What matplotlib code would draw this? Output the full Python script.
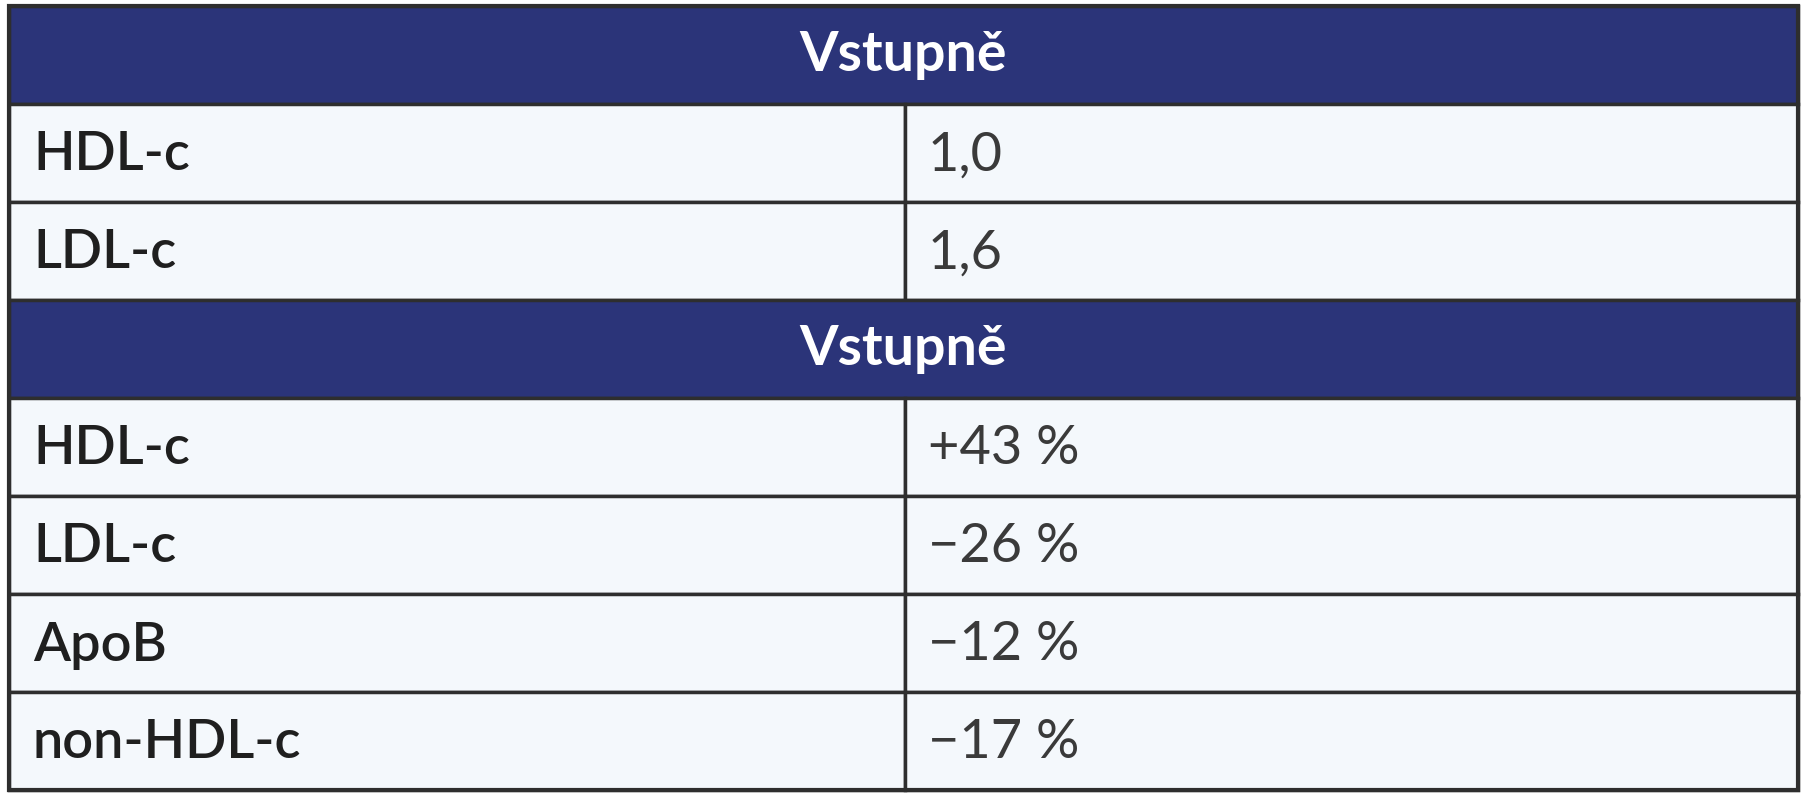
import matplotlib
matplotlib.use("Agg")
import matplotlib.pyplot as plt
from matplotlib.patches import Rectangle

headers = ["Vstupně", "Vstupně"]
section1_labels = ["HDL-c", "LDL-c"]
section1_values = ["1,0", "1,6"]
section2_labels = ["HDL-c", "LDL-c", "ApoB", "non-HDL-c"]
section2_values = ["+43 %", "−26 %", "−12 %", "−17 %"]

W, H = 1807, 800
fig = plt.figure(figsize=(W/100, H/100), dpi=100)
ax = fig.add_axes([0, 0, 1, 1])
ax.set_xlim(0, W); ax.set_ylim(H, 0); ax.axis("off")
fig.patch.set_facecolor("white")

L, R, T, B = 9, 1798, 6, 790
div = 905
rows = [("h", headers[0], None)] + list(zip(["r"]*2, section1_labels, section1_values)) \
     + [("h", headers[1], None)] + list(zip(["r"]*4, section2_labels, section2_values))
rh = (B - T) / len(rows)
navy = "#2b3479"; cell = "#f4f8fc"; edge = "#2e2e2e"
for i, (kind, lab, val) in enumerate(rows):
    y0 = T + i*rh
    if kind == "h":
        ax.add_patch(Rectangle((L, y0), R-L, rh, facecolor=navy, edgecolor=edge, lw=2.5))
        ax.text((L+R)/2, y0+rh/2, lab, color="white", fontsize=40, fontweight="bold",
                family="Lato", ha="center", va="center")
    else:
        ax.add_patch(Rectangle((L, y0), div-L, rh, facecolor=cell, edgecolor=edge, lw=2.5))
        ax.add_patch(Rectangle((div, y0), R-div, rh, facecolor=cell, edgecolor=edge, lw=2.5))
        ax.text(33, y0+rh/2+2, lab, color="#1f1f1f", fontsize=39, fontweight="semibold",
                family="Lato", ha="left", va="center")
        ax.text(928, y0+rh/2+2, val, color="#3a3a3a", fontsize=39, fontweight="normal",
                family="Lato", ha="left", va="center")
ax.add_patch(Rectangle((L, T), R-L, B-T, facecolor="none", edgecolor=edge, lw=3))
fig.savefig("out.png", dpi=100)
